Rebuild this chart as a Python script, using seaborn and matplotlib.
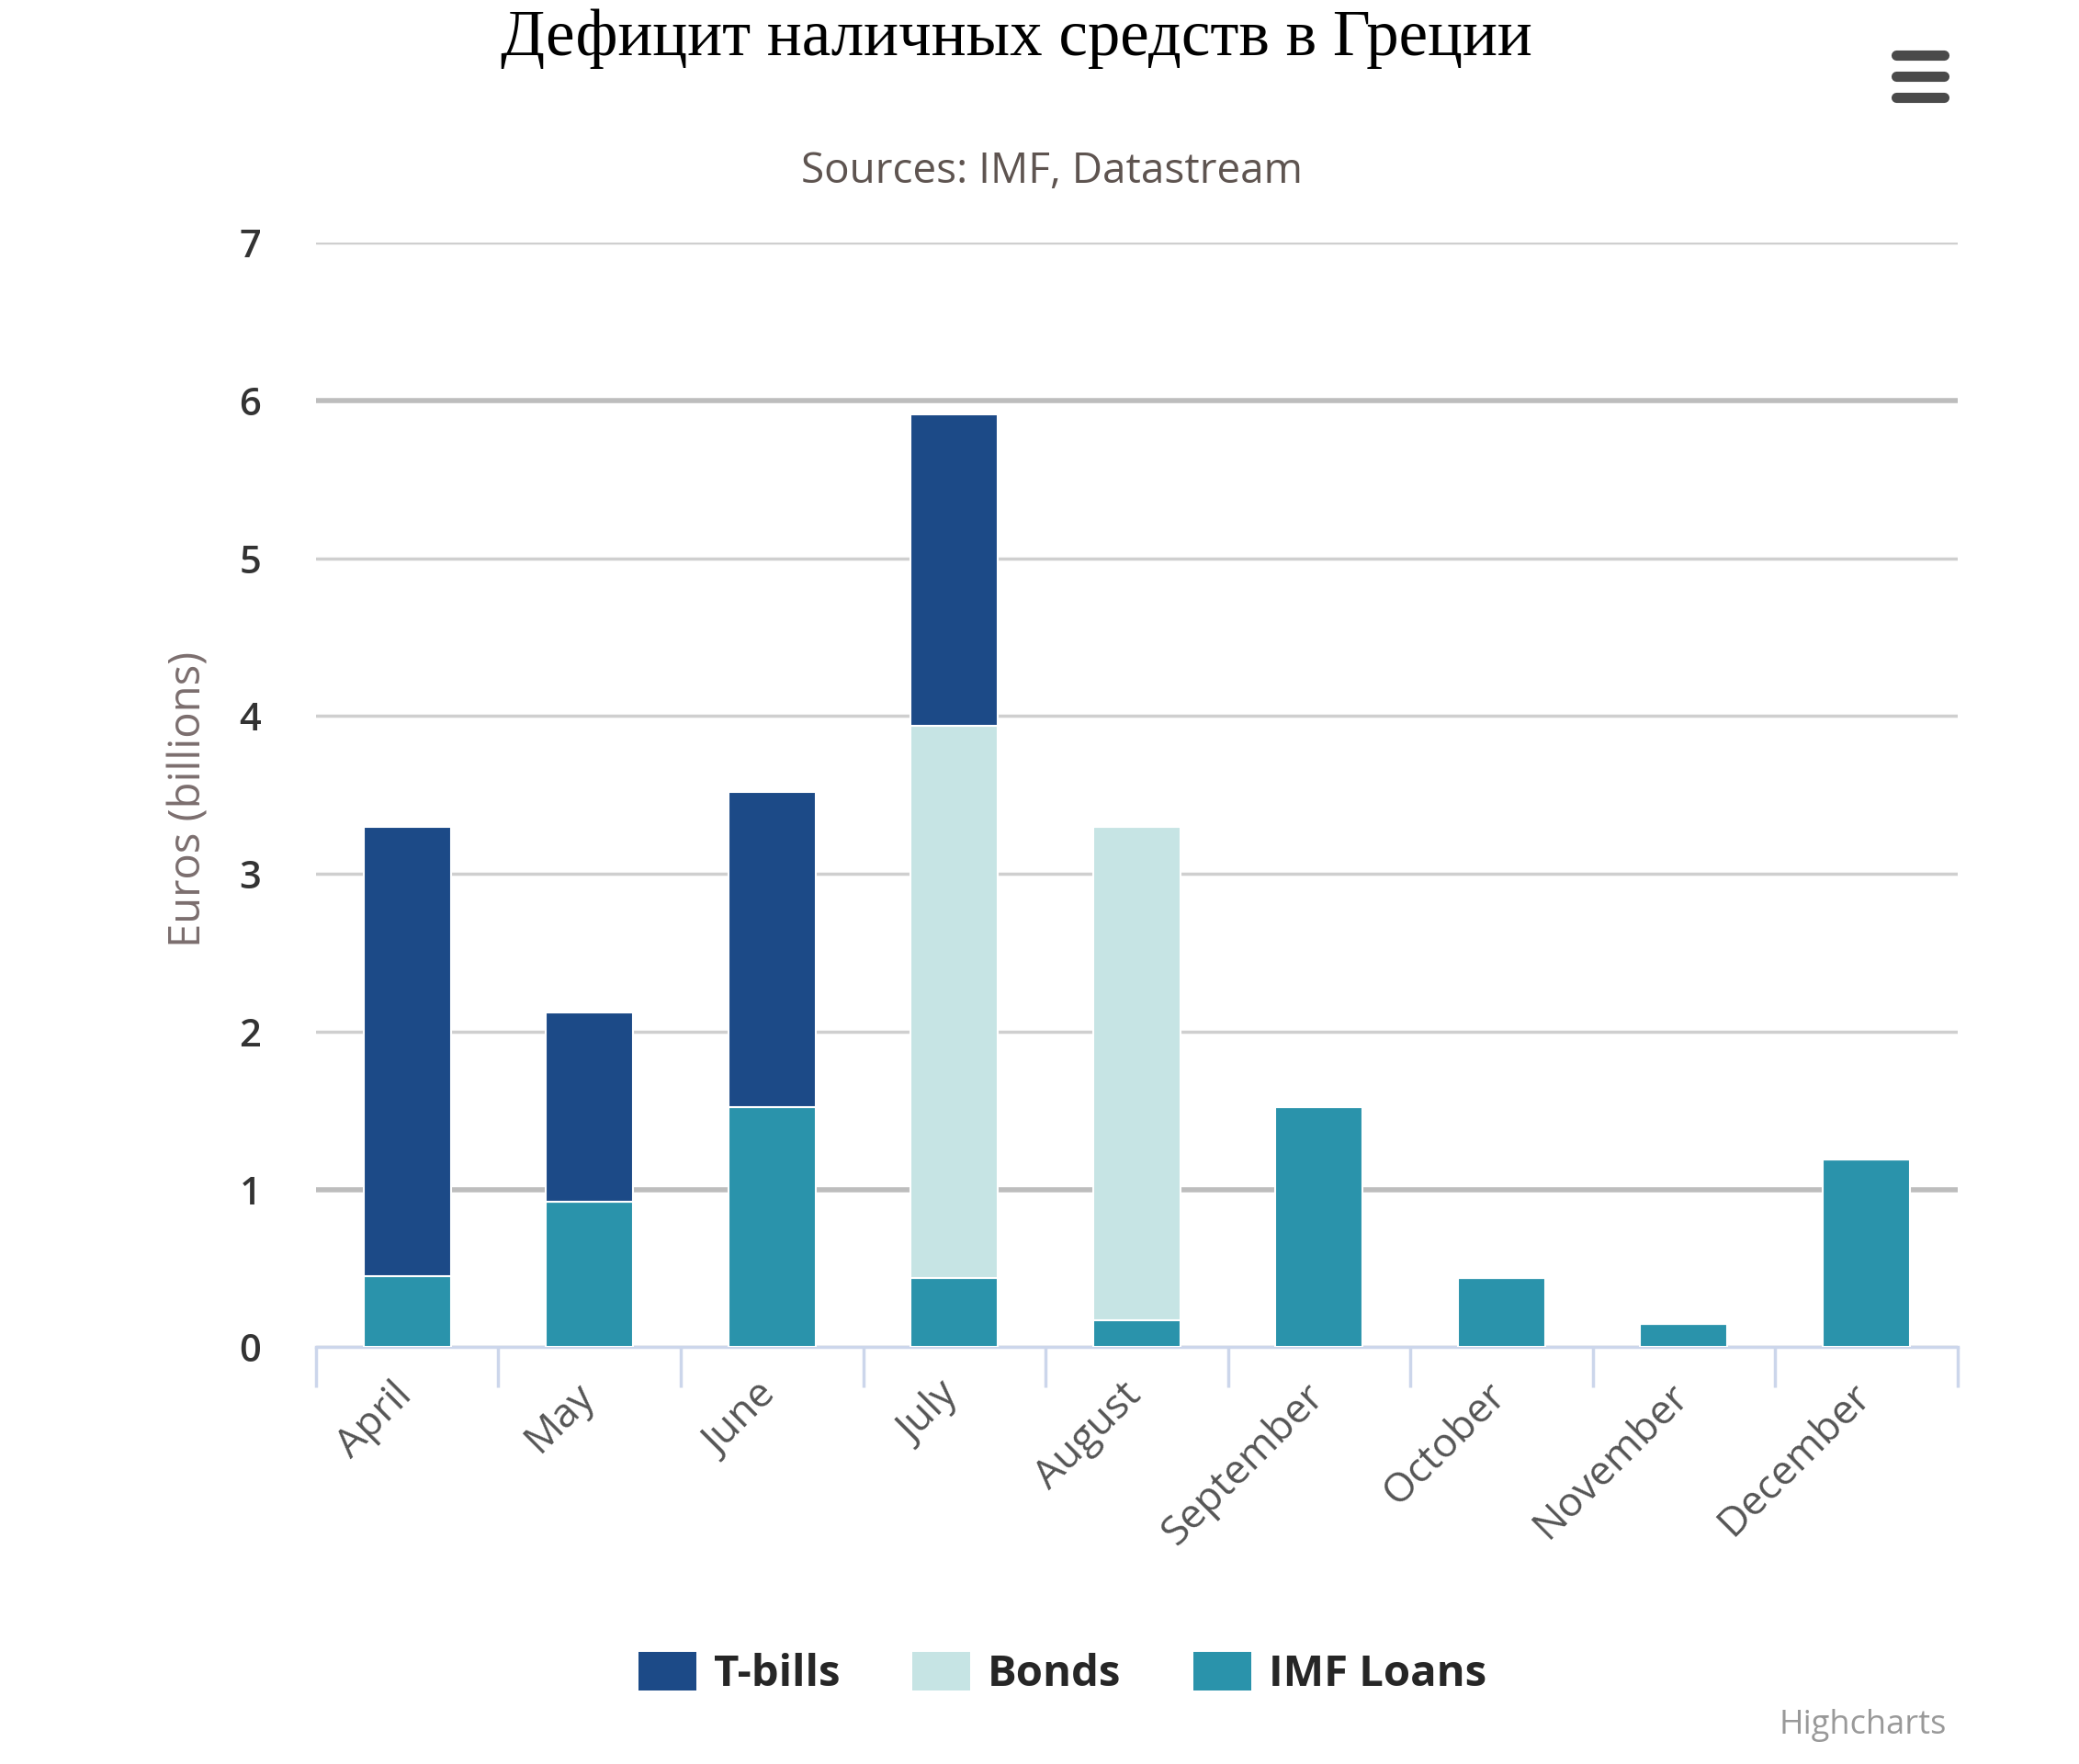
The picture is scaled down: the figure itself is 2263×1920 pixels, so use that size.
import numpy as np
import pandas as pd
import matplotlib
matplotlib.use("Agg")
import matplotlib.pyplot as plt
import matplotlib.transforms as mtransforms
import seaborn as sns
from matplotlib.lines import Line2D
from matplotlib.patches import Patch

# данные (млрд евро)
months = ["April", "May", "June", "July", "August",
          "September", "October", "November", "December"]
tbills = [2.85, 1.2, 2.0, 1.97, 0.0, 0.0, 0.0, 0.0, 0.0]
bonds = [0.0, 0.0, 0.0, 3.5, 3.13, 0.0, 0.0, 0.0, 0.0]
imf_loans = [0.45, 0.92, 1.52, 0.44, 0.17, 1.52, 0.44, 0.15, 1.19]

series_names = ["T-bills", "Bonds", "IMF Loans"]
colors = {"T-bills": "#1c4a87", "Bonds": "#c6e4e4", "IMF Loans": "#2a93ab"}

df = pd.DataFrame({"month": months, "T-bills": tbills,
                   "Bonds": bonds, "IMF Loans": imf_loans})

sns.set_style("white")
plt.rcParams["font.family"] = ["Open Sans", "DejaVu Sans"]

fig = plt.figure(figsize=(22.63, 19.2), dpi=100)
ax = fig.add_axes([0.152, 0.2363, 0.7895, 0.6262])

# stacked bars: IMF Loans at the bottom, then Bonds, then T-bills
bottom = np.zeros(len(months))
for name in ["IMF Loans", "Bonds", "T-bills"]:
    sns.barplot(data=df, x="month", y=name, color=colors[name],
                bottom=bottom, width=0.48, ax=ax, saturation=1,
                edgecolor="white", linewidth=1.5, zorder=3)
    bottom = bottom + df[name].values

ax.set_ylim(0, 7)
ax.set_xlim(-0.5, len(months) - 0.5)
ax.set_yticks(range(0, 8))
ax.yaxis.grid(True, color="#cfcfcf", linewidth=2.5, zorder=0)
ax.xaxis.grid(False)
# в оригинале линии 1 и 6 выглядят темнее
gl = ax.get_ygridlines()
for i in (1, 6):
    gl[i].set_linewidth(4)
    gl[i].set_color("#bdbdbd")

for side in ["top", "right", "left"]:
    ax.spines[side].set_visible(False)
ax.spines["bottom"].set_color("#ccd6eb")
ax.spines["bottom"].set_linewidth(2.5)

ax.set_xticks(range(len(months)))
ax.set_xticklabels(months, rotation=45, ha="right", rotation_mode="anchor",
                   fontsize=32, color="#555555")
ax.set_xticks(np.arange(-0.5, len(months), 1), minor=True)
ax.tick_params(axis="x", which="major", length=0, pad=22)
ax.tick_params(axis="x", which="minor", bottom=True, length=32, width=2.5,
               color="#ccd6eb")
ax.tick_params(axis="y", length=0, pad=43, labelsize=30, labelcolor="#333333")
for lbl in ax.get_yticklabels():
    lbl.set_fontweight("semibold")

# подписи месяцев чуть левее, как в оригинале
shift = mtransforms.ScaledTranslation(-17 / 100, 0, fig.dpi_scale_trans)
for lbl in ax.get_xticklabels():
    lbl.set_transform(lbl.get_transform() + shift)

ax.set_xlabel("")
ax.set_ylabel("")
fig.text(0.091, 0.547, "Euros (billions)", rotation=90, ha="center",
         va="center", fontsize=34, color="#7b6e6e")

# заголовки
fig.text(0.489, 0.978, "Дефицит наличных средств в Греции",
         ha="center", va="center", fontsize=51, color="black",
         family=["Liberation Serif", "DejaVu Serif"])
fig.text(0.506, 0.9027, "Sources: IMF, Datastream", ha="center", va="center",
         fontsize=33, color="#5e5450")

# значок меню
for yy in [0.969, 0.957, 0.945]:
    fig.add_artist(Line2D([0.912, 0.935], [yy, yy], color="#4a4a4a",
                          linewidth=8, solid_capstyle="round",
                          transform=fig.transFigure))

handles = [Patch(facecolor=colors[n], edgecolor="none") for n in series_names]
fig.legend(handles, series_names, loc="center", bbox_to_anchor=(0.511, 0.051),
           ncol=3, frameon=False, handlelength=1.35, handleheight=1.0,
           handletextpad=0.4, columnspacing=1.65,
           prop={"size": 34, "weight": "bold"})

fig.text(0.9365, 0.022, "Highcharts", ha="right", va="center",
         fontsize=26, color="#999999")

fig.savefig("out.png", dpi=100, facecolor="white")
